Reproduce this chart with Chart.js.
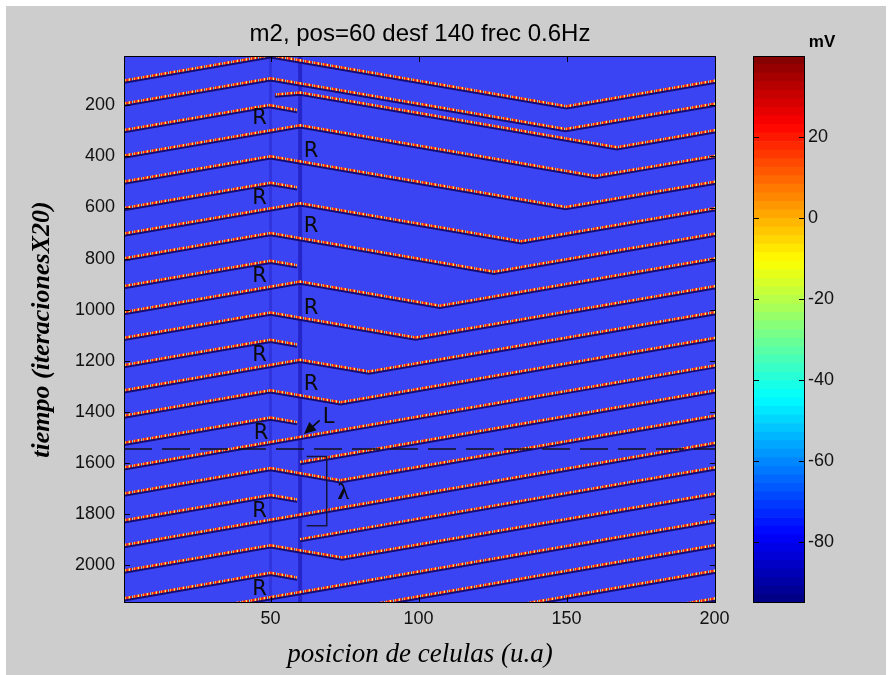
<!DOCTYPE html>
<html>
<head>
<meta charset="utf-8">
<script src="https://cdn.jsdelivr.net/npm/chart.js@4"></script>
<style>
  html, body { margin: 0; padding: 0; background: #fff; }
  #wrap { position: relative; width: 891px; height: 675px; overflow: hidden; }
  #paper { position: absolute; left: 6px; top: 6px; width: 880px; height: 669px; background: #cdcdcd; }
  canvas { position: absolute; left: 0; top: 0; }
</style>
</head>
<body>
<div id="wrap">
  <div id="paper"></div>
  <canvas id="mapChart" width="891" height="675"></canvas>
  <canvas id="barChart" width="891" height="675"></canvas>
</div>
<script>
// axes
const xTicks = [50, 100, 150, 200];
const yTicks = [200, 400, 600, 800, 1000, 1200, 1400, 1600, 1800, 2000];
const mvTicks = [-80, -60, -40, -20, 0, 20];
const mvRange = [-95, 40];
const cellRange = [0.5, 200.5];
const timeRange = [7, 2148];
const stimSites = [50, 60];

// wavefronts as [cell, time] vertices
// fired at cell 50
const wavesA = [
  [[0.5, 103], [50, 4], [150, 204], [200.5, 103]],
  [[0.5, 193], [50, 94], [149.7, 293], [200.5, 193]],
  [[0.5, 297], [49.5, 199], [59, 218]],
  [[0.5, 498], [50, 399], [149.7, 598], [200.5, 498]],
  [[0.5, 602], [50, 503], [59, 521]],
  [[0.5, 799], [50, 700], [125.5, 851], [200.5, 702]],
  [[0.5, 907], [50, 808], [59, 826]],
  [[0.5, 1110], [50, 1011], [99, 1109], [200.5, 907]],
  [[0.5, 1217], [50, 1118], [59, 1136]],
  [[0.5, 1414], [50, 1315], [73.7, 1362], [200.5, 1110]],
  [[0.5, 1521], [50, 1422], [59, 1440]],
  [[0.5, 1719], [50, 1620], [73.5, 1667], [200.5, 1414]],
  [[0.5, 1824], [50, 1725], [59, 1743]],
  [[0.5, 2021], [50, 1922], [74.2, 1970], [200.5, 1719]],
  [[0.5, 2129], [50, 2030], [59, 2048]]
];
// fired at cell 60
const wavesB = [
  [[51.5, 158], [60, 150], [167, 364], [200.5, 297]],
  [[0.5, 397], [60, 278], [159.8, 477], [200.5, 397]],
  [[0.5, 702], [60, 583], [134.7, 732], [200.5, 602]],
  [[0.5, 1009], [60, 890], [107.2, 984], [200.5, 799]],
  [[0.5, 1315], [60, 1196], [83.2, 1242], [200.5, 1009]]
];
// coming in from the right end
const wavesRight = [
  [[0.5, 1617], [200.5, 1217]],
  [[60, 1596], [200.5, 1315]],
  [[0.5, 1921], [200.5, 1521]],
  [[60, 1898], [200.5, 1617]],
  [[0.5, 2224], [200.5, 1824]],
  [[80, 2162], [200.5, 1921]],
  [[120, 2182], [200.5, 2021]],
  [[170, 2190], [200.5, 2129]]
];

// annotations (data coordinates)
const dividerTime = 1545;
const lambdaBracket = [[62.2, 1575], [69, 1575], [69, 1846], [62.2, 1846]];
const rMarks = [[46.3, 252], [63.7, 381], [46.3, 563], [63.7, 675], [46.3, 871], [63.7, 994],
                [46.3, 1179], [63.7, 1294], [46.8, 1484], [46.3, 1789], [46.3, 2094]];
const lMark = [69.6, 1421];
const lArrow = [[66.6, 1433], [61.3, 1487]];
const lambdaMark = [74.6, 1716];

Chart.defaults.font.family = 'Liberation Sans';
const tickFont = { family: 'Liberation Sans', size: 18 };

const mapCanvas = document.getElementById('mapChart');
const stripe = (() => {
  const c = document.createElement('canvas');
  c.width = 9; c.height = 9;
  const g = c.getContext('2d');
  const cols = ['#f42414', '#f42414', '#ff6a1c', '#ffe85e', '#f22c14', '#c81810', '#62d8ff', '#f42414', '#ffb430'];
  cols.forEach((col, i) => { g.fillStyle = col; g.fillRect(i, 0, 1, 9); });
  return mapCanvas.getContext('2d').createPattern(c, 'repeat');
})();

const pts = arr => arr.map(([x, y]) => ({ x, y }));

const datasets = [];
datasets.push({
  data: pts([[cellRange[0], dividerTime], [cellRange[1], dividerTime]]),
  borderColor: '#101018', borderWidth: 1.6, borderDash: [28, 10], pointRadius: 0, order: 1
});
datasets.push({
  data: pts(lambdaBracket), borderColor: '#14143c', borderWidth: 1.5, pointRadius: 0, order: 1
});
[...wavesA, ...wavesB, ...wavesRight].forEach(w => {
  datasets.push({
    data: pts(w), borderColor: stripe, borderWidth: 2.5, pointRadius: 0,
    front: true, order: 2
  });
});
stimSites.forEach((c, i) => {
  datasets.push({
    data: pts([[c, timeRange[0]], [c, timeRange[1]]]),
    borderColor: i ? '#2626c8' : '#3034dc', borderWidth: i ? 4 : 3, pointRadius: 0, order: 3
  });
});

const plotBg = {
  id: 'plotBg',
  beforeDatasetsDraw(chart) {
    const { ctx, chartArea: a } = chart;
    ctx.save();
    ctx.fillStyle = '#3a44f2';
    ctx.fillRect(a.left, a.top, a.width, a.height);
    ctx.restore();
  }
};

const frontShade = {
  id: 'frontShade',
  beforeDatasetDraw(chart, args) {
    if (!chart.data.datasets[args.index].front) return;
    const ctx = chart.ctx;
    ctx.save();
    ctx.shadowColor = 'rgba(18,10,110,0.95)';
    ctx.shadowOffsetY = 2;
    ctx.shadowBlur = 0;
  },
  afterDatasetDraw(chart, args) {
    if (chart.data.datasets[args.index].front) chart.ctx.restore();
  }
};

const axesFrame = {
  id: 'axesFrame',
  afterDatasetsDraw(chart) {
    const { ctx, chartArea: a, scales } = chart;
    const len = 6;
    ctx.save();
    ctx.strokeStyle = '#000';
    ctx.lineWidth = 1;
    ctx.strokeRect(a.left + 0.5, a.top + 0.5, a.width - 1, a.height - 1);
    ctx.beginPath();
    Object.values(scales).forEach(s => {
      if (!s.options.display) return;
      s.ticks.forEach(t => {
        const p = Math.round(s.getPixelForValue(t.value)) + 0.5;
        if (s.isHorizontal()) {
          ctx.moveTo(p, a.bottom); ctx.lineTo(p, a.bottom - len);
          ctx.moveTo(p, a.top); ctx.lineTo(p, a.top + len);
        } else {
          ctx.moveTo(a.left, p); ctx.lineTo(a.left + len, p);
          ctx.moveTo(a.right, p); ctx.lineTo(a.right - len, p);
        }
      });
    });
    ctx.stroke();
    ctx.restore();
  }
};

const marks = {
  id: 'marks',
  afterDatasetsDraw(chart) {
    const { ctx, scales: { x, y } } = chart;
    const px = ([c, t]) => [x.getPixelForValue(c), y.getPixelForValue(t)];
    ctx.save();
    ctx.fillStyle = '#0a0a0a';
    ctx.textAlign = 'center';
    ctx.textBaseline = 'middle';
    ctx.font = '21px "DejaVu Sans"';
    rMarks.forEach(m => { const [a, b] = px(m); ctx.fillText('R', a, b); });
    const [lx, ly] = px(lMark);
    ctx.fillText('L', lx, ly);
    // arrow
    const [tx, ty] = px(lArrow[0]);
    const [hx, hy] = px(lArrow[1]);
    const ang = Math.atan2(hy - ty, hx - tx);
    ctx.strokeStyle = '#0a0a0a';
    ctx.lineWidth = 1.6;
    ctx.beginPath();
    ctx.moveTo(tx, ty);
    ctx.lineTo(hx - 8 * Math.cos(ang), hy - 8 * Math.sin(ang));
    ctx.stroke();
    ctx.beginPath();
    ctx.moveTo(hx, hy);
    ctx.lineTo(hx - 12 * Math.cos(ang) + 5.5 * Math.sin(ang), hy - 12 * Math.sin(ang) - 5.5 * Math.cos(ang));
    ctx.lineTo(hx - 12 * Math.cos(ang) - 5.5 * Math.sin(ang), hy - 12 * Math.sin(ang) + 5.5 * Math.cos(ang));
    ctx.closePath();
    ctx.fill();
    const [gx, gy] = px(lambdaMark);
    ctx.font = 'bold 23px "Liberation Serif"';
    ctx.fillText('λ', gx, gy);
    ctx.restore();
  }
};

new Chart(mapCanvas, {
  type: 'line',
  data: { datasets },
  options: {
    responsive: false,
    animation: false,
    events: [],
    layout: { padding: { left: 0, right: 175, top: 0, bottom: 0 } },
    plugins: {
      legend: { display: false },
      tooltip: { enabled: false },
      title: {
        display: true,
        fullSize: false,
        text: 'm2, pos=60 desf 140 frec 0.6Hz',
        color: '#000',
        font: { family: 'Liberation Sans', size: 24, weight: 'normal' },
        padding: { top: 19.6, bottom: 7.6 }
      }
    },
    scales: {
      x: {
        type: 'linear',
        min: cellRange[0], max: cellRange[1],
        grid: { display: false, drawTicks: false },
        border: { display: false },
        afterBuildTicks: s => { s.ticks = xTicks.map(v => ({ value: v })); },
        afterFit: s => { s.height = 72; },
        ticks: { font: tickFont, color: '#111', padding: 5, maxRotation: 0, autoSkip: false, callback: v => String(v) },
        title: {
          display: true,
          text: 'posicion de celulas (u.a)',
          color: '#000',
          font: { family: 'Liberation Serif', size: 27, style: 'italic' },
          padding: { top: 0, bottom: 4 }
        }
      },
      y: {
        type: 'linear',
        reverse: true,
        min: timeRange[0], max: timeRange[1],
        grid: { display: false, drawTicks: false },
        border: { display: false },
        afterBuildTicks: s => { s.ticks = yTicks.map(v => ({ value: v })); },
        afterFit: s => { s.width = 124; },
        ticks: { font: tickFont, color: '#111', padding: 9, autoSkip: false, callback: v => String(v) },
        title: {
          display: true,
          text: 'tiempo (iteracionesX20)',
          color: '#000',
          font: { family: 'Liberation Serif', size: 26, style: 'italic', weight: 'bold' },
          padding: { top: 26.4, bottom: 0 }
        }
      }
    }
  },
  plugins: [plotBg, frontShade, axesFrame, marks]
});

// colour bar
const jet = t => {
  const f = v => Math.round(255 * Math.max(0, Math.min(1, v)));
  return `rgb(${f(1.5 - Math.abs(4 * t - 3))},${f(1.5 - Math.abs(4 * t - 2))},${f(1.5 - Math.abs(4 * t - 1))})`;
};
const nLevels = 64;
const step = (mvRange[1] - mvRange[0]) / nLevels;
const barSets = [];
for (let i = 0; i < nLevels; i++) {
  barSets.push({
    data: [[mvRange[0] + i * step, mvRange[0] + (i + 1) * step]],
    backgroundColor: jet((i + 0.5) / nLevels),
    borderWidth: 0,
    barPercentage: 1,
    categoryPercentage: 1,
    grouped: false
  });
}

new Chart(document.getElementById('barChart'), {
  type: 'bar',
  data: { labels: [''], datasets: barSets },
  options: {
    responsive: false,
    animation: false,
    events: [],
    layout: { padding: { left: 753, right: 0, top: 0, bottom: 72 } },
    plugins: {
      legend: { display: false },
      tooltip: { enabled: false },
      title: {
        display: true,
        text: 'mV',
        color: '#000',
        font: { family: 'Liberation Sans', size: 17, weight: 'bold' },
        padding: { top: 32, bottom: 3.6 }
      }
    },
    scales: {
      x: { display: false },
      y: {
        position: 'right',
        min: mvRange[0], max: mvRange[1],
        grid: { display: false, drawTicks: false },
        border: { display: false },
        afterBuildTicks: s => { s.ticks = mvTicks.map(v => ({ value: v })); },
        afterFit: s => { s.width = 86; },
        ticks: { font: tickFont, color: '#111', padding: 3, callback: v => String(v) }
      }
    }
  },
  plugins: [axesFrame]
});
</script>
</body>
</html>
